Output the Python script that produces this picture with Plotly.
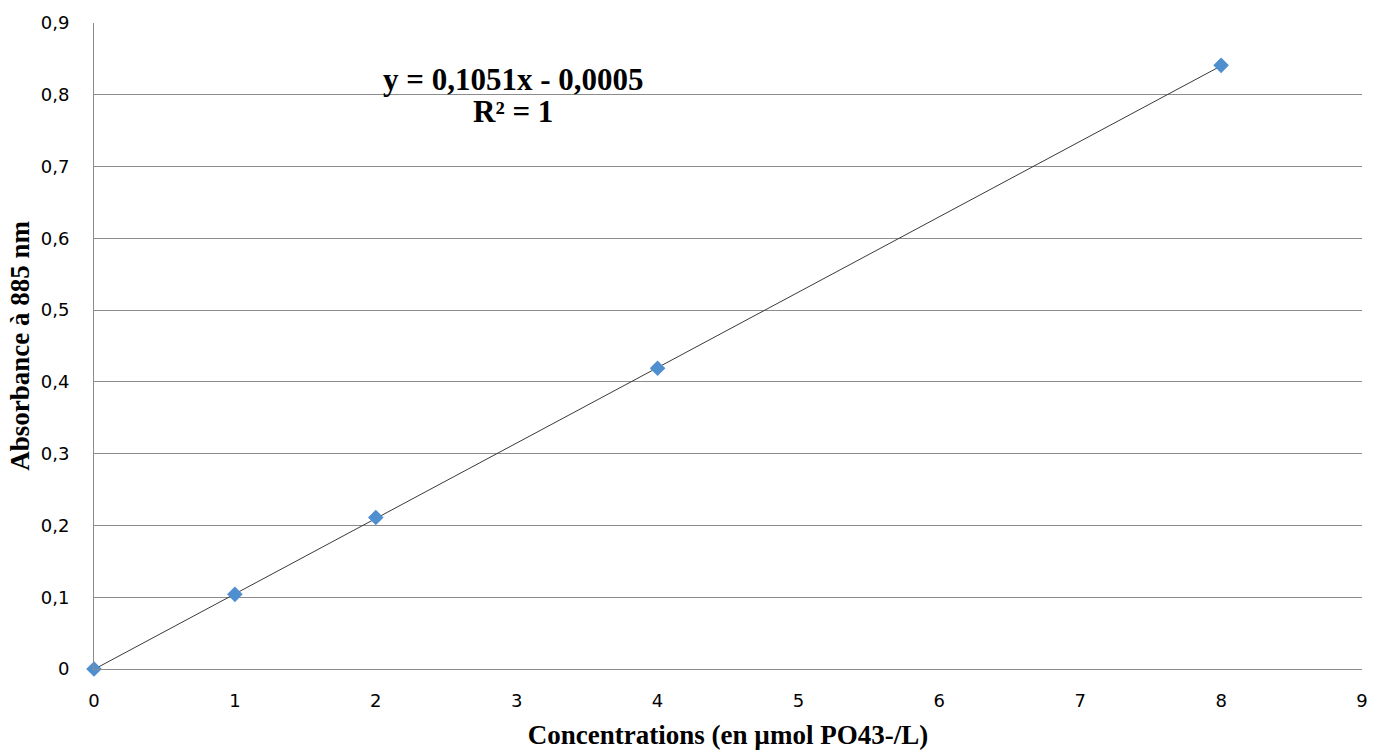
import numpy as np
import plotly.graph_objects as go

# Data
conc = [0, 1, 2, 4, 8]
absorbance = [0.0, 0.104, 0.211, 0.419, 0.841]
slope = 0.1051
intercept = -0.0005
x_ticks = [0, 1, 2, 3, 4, 5, 6, 7, 8, 9]
y_ticks = [0, 0.1, 0.2, 0.3, 0.4, 0.5, 0.6, 0.7, 0.8, 0.9]

trend_x = [min(conc), max(conc)]
trend_y = [slope * v + intercept for v in trend_x]

fig = go.Figure()
fig.add_trace(go.Scatter(x=trend_x, y=trend_y, mode="lines",
                         line=dict(color="#3a3a3a", width=1), showlegend=False,
                         hoverinfo="skip", cliponaxis=False))
fig.add_trace(go.Scatter(x=conc, y=absorbance, mode="markers",
                         marker=dict(symbol="diamond", size=12, color="#4F8FD0",
                                     line=dict(width=0)),
                         showlegend=False, cliponaxis=False))

plot_top, plot_bottom = 17, 669
fig.add_annotation(x=0.3305, y=(plot_bottom - 74) / (plot_bottom - plot_top), xref="paper", yref="paper",
                   xanchor="center", yanchor="middle",
                   text="<b>y = 0,1051x - 0,0005</b>", showarrow=False,
                   font=dict(family="Liberation Serif", size=31, color="black"))
fig.add_annotation(x=0.3305, y=(plot_bottom - 106) / (plot_bottom - plot_top), xref="paper", yref="paper",
                   xanchor="center", yanchor="middle",
                   text="<b>R² = 1</b>", showarrow=False,
                   font=dict(family="Liberation Serif", size=31, color="black"))

fig.update_layout(
    width=1386, height=756,
    margin=dict(l=94, r=24, t=plot_top, b=756 - plot_bottom),
    paper_bgcolor="white", plot_bgcolor="white",
    separators=", ",
    font=dict(family="DejaVu Sans", size=18, color="black"),
    xaxis=dict(range=[0, 9], tickvals=x_ticks, showgrid=False, zeroline=False,
               showline=True, linecolor="#8c8c8c", linewidth=1,
               ticks="", ticklabelstandoff=15,
               title=dict(text="<b>Concentrations (en µmol PO43-/L)</b>",
                          font=dict(family="Liberation Serif", size=27), standoff=15)),
    yaxis=dict(range=[0, 0.9], tickvals=y_ticks, showgrid=True, gridcolor="#8c8c8c",
               gridwidth=1, zeroline=False, showline=True, linecolor="#8c8c8c",
               linewidth=1, ticks="", ticklabelstandoff=20, tickformat=".1~f",
               title=dict(text="<b>Absorbance à 885 nm</b>",
                          font=dict(family="Liberation Serif", size=27), standoff=3)),
)

fig.write_html("out.html")
